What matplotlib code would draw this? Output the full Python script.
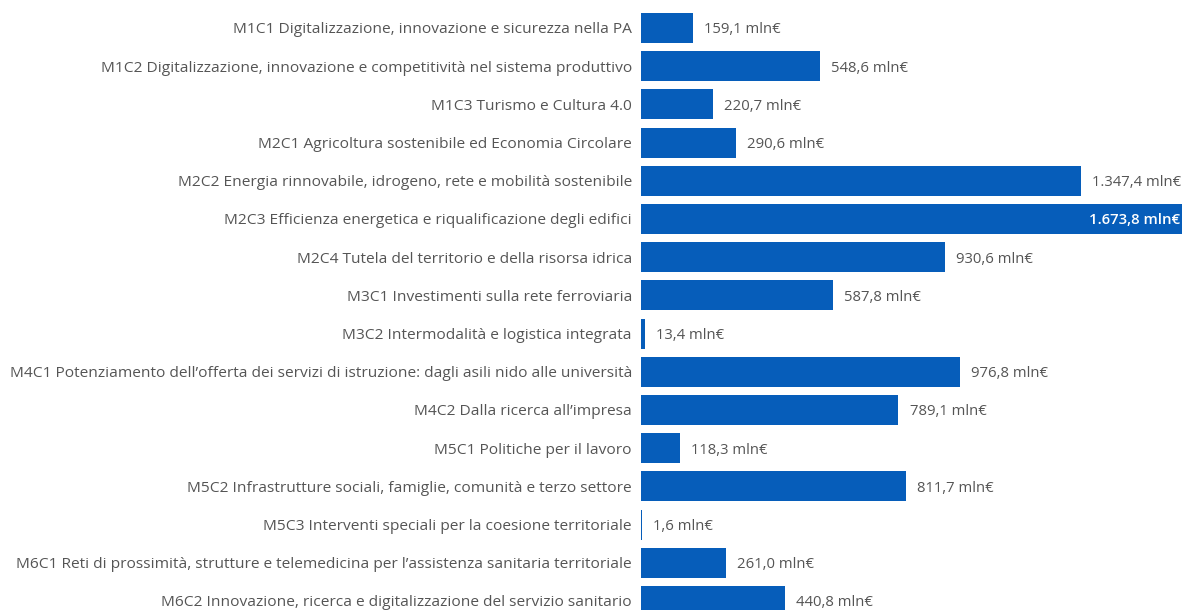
import matplotlib.pyplot as plt

categories = [
    "M1C1 Digitalizzazione, innovazione e sicurezza nella PA",
    "M1C2 Digitalizzazione, innovazione e competitività nel sistema produttivo",
    "M1C3 Turismo e Cultura 4.0",
    "M2C1 Agricoltura sostenibile ed Economia Circolare",
    "M2C2 Energia rinnovabile, idrogeno, rete e mobilità sostenibile",
    "M2C3 Efficienza energetica e riqualificazione degli edifici",
    "M2C4 Tutela del territorio e della risorsa idrica",
    "M3C1 Investimenti sulla rete ferroviaria",
    "M3C2 Intermodalità e logistica integrata",
    "M4C1 Potenziamento dell’offerta dei servizi di istruzione: dagli asili nido alle università",
    "M4C2 Dalla ricerca all’impresa",
    "M5C1 Politiche per il lavoro",
    "M5C2 Infrastrutture sociali, famiglie, comunità e terzo settore",
    "M5C3 Interventi speciali per la coesione territoriale",
    "M6C1 Reti di prossimità, strutture e telemedicina per l’assistenza sanitaria territoriale",
    "M6C2 Innovazione, ricerca e digitalizzazione del servizio sanitario",
]
values = [159.1, 548.6, 220.7, 290.6, 1347.4, 1673.8, 930.6, 587.8,
          13.4, 976.8, 789.1, 118.3, 811.7, 1.6, 261.0, 440.8]

BAR_COLOR = "#065dba"
TEXT_COLOR = "#555555"


def fmt_it(v):
    s = f"{v:,.1f}"
    s = s.replace(",", "X").replace(".", ",").replace("X", ".")
    return f"{s} mln€"


plt.rcParams["font.family"] = ["Open Sans", "DejaVu Sans"]

fig = plt.figure(figsize=(11.82, 6.10), dpi=100)
ax = fig.add_axes([641 / 1182, 0, 1 - 641 / 1182, 1])

pos = list(range(len(categories)))
ax.barh(pos, values, height=0.785, color=BAR_COLOR)

xmax = 1658
ax.set_xlim(0, xmax)
ax.set_ylim(15.236, -0.733)

ax.set_yticks(pos)
ax.set_yticklabels(categories, fontsize=11.15, color=TEXT_COLOR)
ax.tick_params(axis="y", length=0, pad=6.5)
ax.set_xticks([])
for sp in ax.spines.values():
    sp.set_visible(False)

for i, v in enumerate(values):
    label = fmt_it(v)
    if v > xmax * 0.95:
        ax.annotate(label, xy=(xmax, i), xytext=(-1, 0), textcoords="offset points",
                    ha="right", va="center_baseline", fontsize=10.7, color="white",
                    fontweight="semibold")
    else:
        ax.annotate(label, xy=(v, i), xytext=(8, 0), textcoords="offset points",
                    ha="left", va="center_baseline", fontsize=10.7, color=TEXT_COLOR)

fig.savefig("out.png", dpi=100)
